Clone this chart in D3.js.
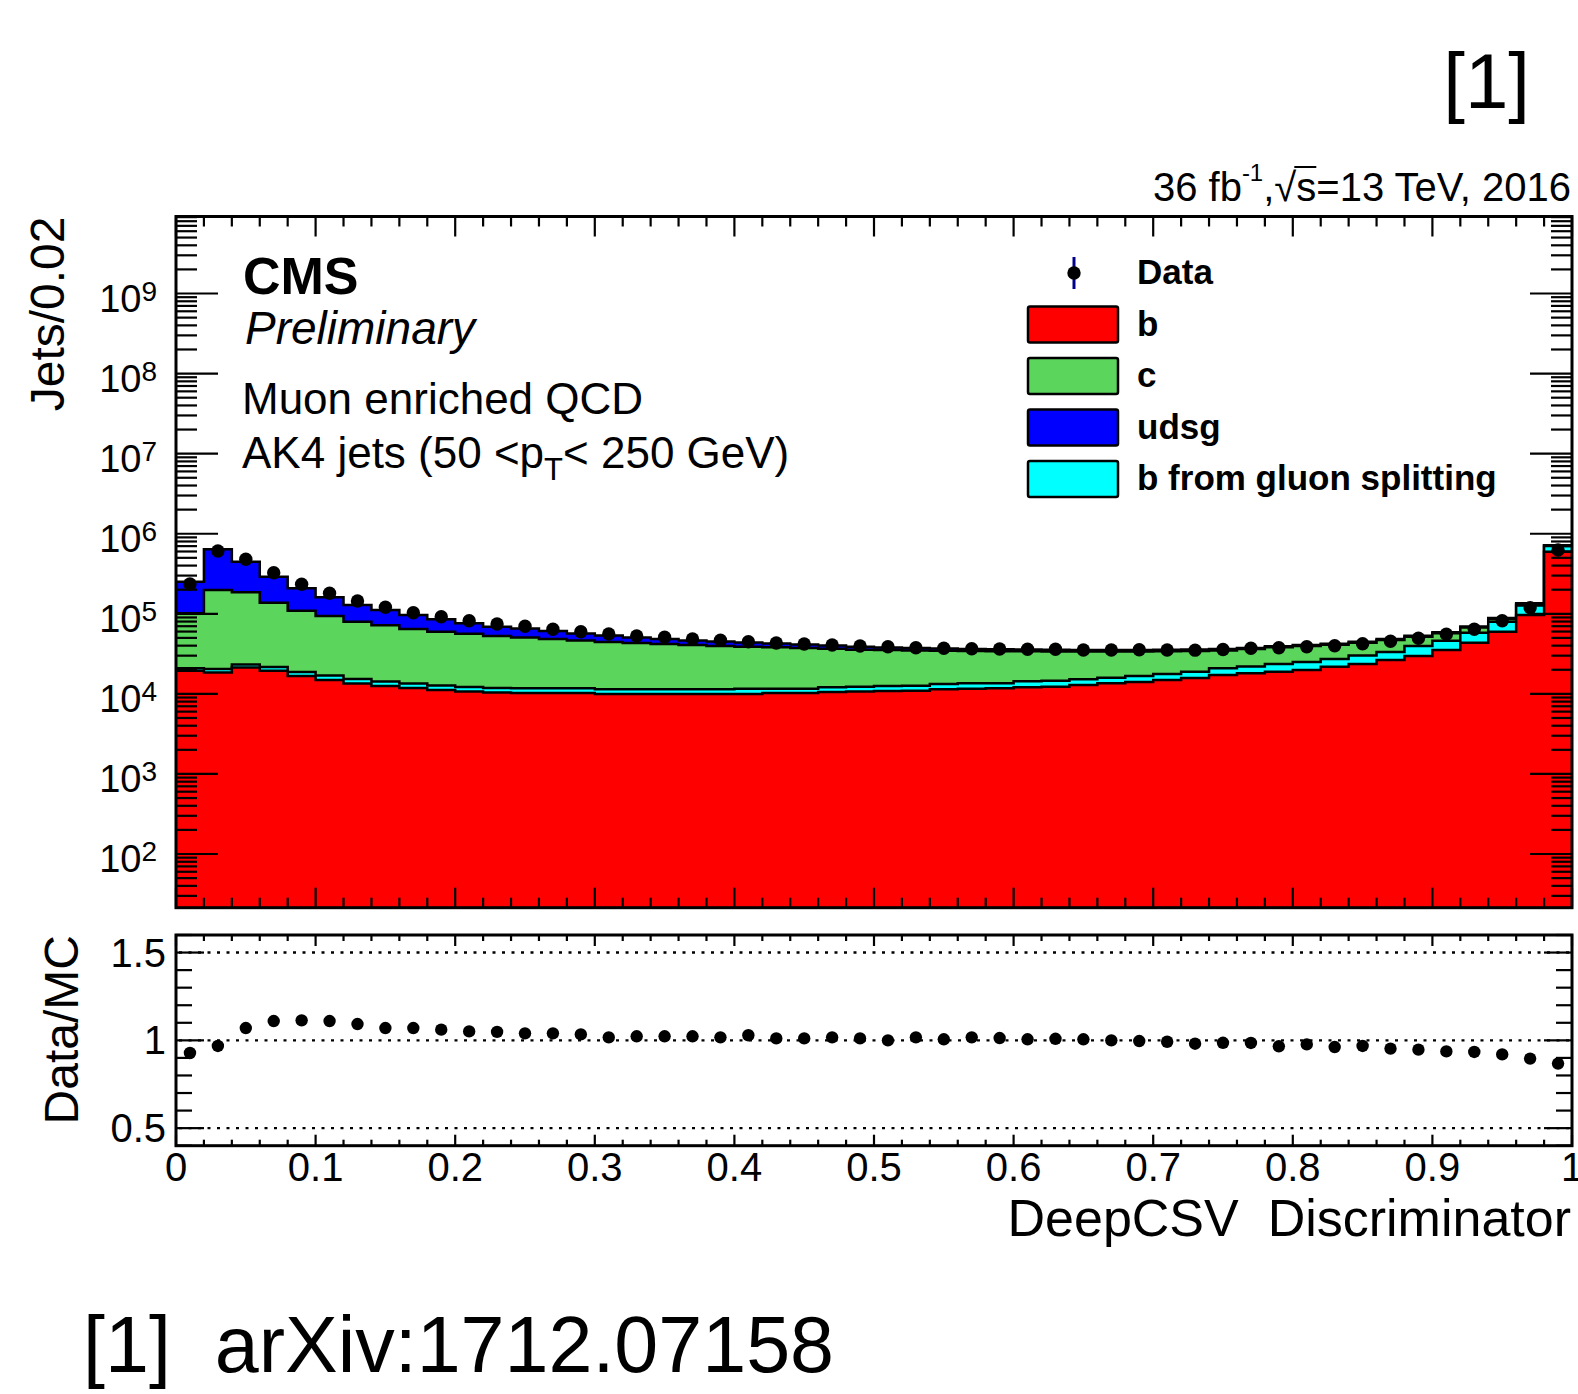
<!DOCTYPE html>
<html><head><meta charset="utf-8">
<script src="https://cdn.jsdelivr.net/npm/d3@7"></script>
<style>
body{margin:0;background:#fff}
svg{display:block}
text{font-family:"Liberation Sans",Arial,Helvetica,sans-serif;fill:#000}
</style>
</head><body>
<svg id="c" width="1578" height="1394"></svg>
<script>
// ---------------- data ----------------
const binLowEdges = [0,0.02,0.04,0.06,0.08,0.10,0.12,0.14,0.16,0.18,0.20,0.22,0.24,0.26,0.28,0.30,0.32,0.34,0.36,0.38,0.40,0.42,0.44,0.46,0.48,0.50,0.52,0.54,0.56,0.58,0.60,0.62,0.64,0.66,0.68,0.70,0.72,0.74,0.76,0.78,0.80,0.82,0.84,0.86,0.88,0.90,0.92,0.94,0.96,0.98];
const binWidth = 0.02;
const bJets = [19500,18500,21300,19500,16700,14900,13500,12500,11800,11200,10700,10400,10250,10250,10250,9960,9960,9960,9960,9960,9960,10250,10250,10550,10700,10860,10950,11400,11600,11730,12080,12290,12900,13550,14070,14900,15780,17200,18060,18920,19860,21840,23600,26480,29710,35300,43550,59750,96600,596400];
const bGluonSplitting = [1400,2000,1900,2100,2050,2050,1850,1750,1650,1550,1480,1440,1480,1480,1480,1440,1440,1440,1440,1440,1640,1350,1350,1530,1570,1680,1680,1880,1950,1820,2270,2310,2300,2370,2650,2800,3140,3660,3900,4680,5140,5410,6530,6850,9890,10820,14500,19910,30300,106200];
const cJets = [80500,177700,162200,115950,90550,76900,64330,57570,51100,47030,44230,40960,38850,36720,34660,33030,31770,30540,29350,28200,27220,26550,25780,24560,23360,22760,22250,21220,20750,20560,19660,19310,18610,17890,17090,16310,15380,13930,14370,14550,14600,13750,13290,13740,12150,11110,9380,6440,5600,8000];
const udsgJets = [150300,440800,261900,153000,98800,66850,49140,39660,32030,25610,19650,16200,14930,12530,10360,9140,7410,6510,5640,5470,4970,4400,3960,3540,3030,2630,2590,2350,2030,1900,1800,1690,1490,1490,1490,1490,1510,1540,1050,1120,1150,1190,1270,1380,1510,1670,1970,2510,2700,6300];
const dataCounts = [235500,608500,479000,326000,233500,180300,144400,120500,103200,92000,82000,74560,69800,64020,59750,55940,52800,50870,48450,46660,44810,43170,41940,40750,39600,38820,37710,37070,36540,36330,36010,36010,35300,35300,35500,35300,35130,35800,37070,37710,38820,39950,42320,45330,49420,55460,64020,82000,119200,626200];
const dataMCRatio = [0.928,0.968,1.07,1.11,1.114,1.11,1.093,1.07,1.07,1.061,1.051,1.048,1.040,1.040,1.034,1.017,1.023,1.023,1.023,1.017,1.029,1.011,1.011,1.017,1.011,1.0,1.017,1.006,1.017,1.013,1.006,1.009,1.006,1.0,0.996,0.992,0.981,0.986,0.985,0.966,0.977,0.962,0.968,0.953,0.947,0.937,0.934,0.920,0.896,0.868];
const xTickValues = [0,0.1,0.2,0.3,0.4,0.5,0.6,0.7,0.8,0.9,1];
const xTickLabels = ["0","0.1","0.2","0.3","0.4","0.5","0.6","0.7","0.8","0.9","1"];
const yTickExponents = [2,3,4,5,6,7,8,9];
const ratioTickValues = [0.5,1,1.5];
const ratioTickLabels = ["0.5","1","1.5"];
const ratioMinorTicks = [0.4,0.6,0.7,0.8,0.9,1.1,1.2,1.3,1.4,1.6];
const seriesKeys = ["b","bsplit","c","udsg"];
const seriesColors = {b:"#ff0000",bsplit:"#00ffff",c:"#5bd55b",udsg:"#0000ff"};
const legendKeys = ["b","c","udsg","bsplit"];
const legendLabels = ["Data","b","c","udsg","b from gluon splitting"];

// ---------------- layout ----------------
const L = 176, R = 1572;
const T1 = 216.5, B1 = 907.7;
const T2 = 935, B2 = 1145.7;

const svg = d3.select("#c");
const x = d3.scaleLinear().domain([0,1]).range([L,R]);
const y = d3.scaleLog().domain([21.35, 9.16e9]).range([B1,T1]);
const yr = d3.scaleLinear().domain([0.4,1.6]).range([B2,T2]);

svg.append("defs").append("clipPath").attr("id","clip1")
  .append("rect").attr("x",L).attr("y",T1).attr("width",R-L).attr("height",B1-T1);

// stacked histogram
const rows = binLowEdges.map((lo,i)=>({lo, b:bJets[i], bsplit:bGluonSplitting[i], c:cJets[i], udsg:udsgJets[i]}));
const stacked = d3.stack().keys(seriesKeys)(rows);
const gStack = svg.append("g").attr("clip-path","url(#clip1)");
const area = d3.area().curve(d3.curveStepAfter).x(d=>x(d.lo)).y0(B1+5).y1(d=>y(d.top));
const line = d3.line().curve(d3.curveStepAfter).x(d=>x(d.lo)).y(d=>y(d.top));
stacked.slice().reverse().forEach(layer=>{
  const pts = layer.map((d,i)=>({lo:binLowEdges[i], top:d[1]}));
  pts.push({lo:binLowEdges[binLowEdges.length-1]+binWidth, top:layer[layer.length-1][1]});
  gStack.append("path").attr("d",area(pts)).attr("fill",seriesColors[layer.key]).attr("stroke","none");
  gStack.append("path").attr("d",line(pts)).attr("fill","none").attr("stroke","#000").attr("stroke-width",2.5);
});

// data points (top)
svg.append("g").attr("clip-path","url(#clip1)").selectAll("circle").data(dataCounts).join("circle")
  .attr("cx",(d,i)=>x(binLowEdges[i]+binWidth/2)).attr("cy",d=>y(d)).attr("r",6.7).attr("fill","#000");

// ---------- ticks ----------
const gAx = svg.append("g").attr("stroke","#000").attr("stroke-width",2.2);
const xMinor = binLowEdges.concat([1]);
xMinor.forEach(v=>{
  const major = xTickValues.some(t=>Math.abs(t-v)<1e-9);
  const len = major?20:10;
  gAx.append("line").attr("x1",x(v)).attr("x2",x(v)).attr("y1",B1).attr("y2",B1-len);
  gAx.append("line").attr("x1",x(v)).attr("x2",x(v)).attr("y1",T1).attr("y2",T1+len);
  const len2 = major?11:6;
  gAx.append("line").attr("x1",x(v)).attr("x2",x(v)).attr("y1",B2).attr("y2",B2-len2);
  gAx.append("line").attr("x1",x(v)).attr("x2",x(v)).attr("y1",T2).attr("y2",T2+len2);
});
const [ymin,ymax] = y.domain();
for(let e=1;e<=9;e++){
  for(let k=1;k<=9;k++){
    const v = k*Math.pow(10,e);
    if(v<ymin||v>ymax) continue;
    const len = k===1?42:21;
    gAx.append("line").attr("x1",L).attr("x2",L+len).attr("y1",y(v)).attr("y2",y(v));
    gAx.append("line").attr("x1",R).attr("x2",R-len).attr("y1",y(v)).attr("y2",y(v));
  }
}
ratioTickValues.forEach(v=>{
  gAx.append("line").attr("x1",L).attr("x2",L+28).attr("y1",yr(v)).attr("y2",yr(v));
  gAx.append("line").attr("x1",R).attr("x2",R-28).attr("y1",yr(v)).attr("y2",yr(v));
});
ratioMinorTicks.forEach(v=>{
  gAx.append("line").attr("x1",L).attr("x2",L+16).attr("y1",yr(v)).attr("y2",yr(v));
  gAx.append("line").attr("x1",R).attr("x2",R-16).attr("y1",yr(v)).attr("y2",yr(v));
});

// frames
svg.append("rect").attr("x",L).attr("y",T1).attr("width",R-L).attr("height",B1-T1)
  .attr("fill","none").attr("stroke","#000").attr("stroke-width",3);
svg.append("rect").attr("x",L).attr("y",T2).attr("width",R-L).attr("height",B2-T2)
  .attr("fill","none").attr("stroke","#000").attr("stroke-width",3);

// tick labels
yTickExponents.forEach(e=>{
  const t = svg.append("text").attr("x",157).attr("y",y(Math.pow(10,e))+18.4)
    .attr("text-anchor","end").style("font-size","38px");
  t.append("tspan").text("10");
  t.append("tspan").attr("dy",-11).style("font-size","28px").text(e);
});
ratioTickValues.forEach((v,i)=>{
  svg.append("text").attr("x",166).attr("y",yr(v)+14).attr("text-anchor","end")
    .style("font-size","40px").text(ratioTickLabels[i]);
});
xTickValues.forEach((v,i)=>{
  svg.append("text").attr("x",x(v)).attr("y",1181).attr("text-anchor","middle")
    .style("font-size","40px").text(xTickLabels[i]);
});

// ratio panel
[0.5,1,1.5].forEach(v=>{
  svg.append("line").attr("x1",L+3).attr("x2",R-3).attr("y1",yr(v)).attr("y2",yr(v))
    .attr("stroke","#000").attr("stroke-width",2.4).attr("stroke-dasharray","3,6.5");
});
svg.append("g").selectAll("circle").data(dataMCRatio).join("circle")
  .attr("cx",(d,i)=>x(binLowEdges[i]+binWidth/2)).attr("cy",d=>yr(d)).attr("r",6.2).attr("fill","#000");

// axis titles
svg.append("text").attr("transform",`translate(64,${T1}) rotate(-90)`).attr("text-anchor","end")
  .style("font-size","48px").text("Jets/0.02");
svg.append("text").attr("transform",`translate(78,${T2}) rotate(-90)`).attr("text-anchor","end")
  .style("font-size","48px").text("Data/MC");
svg.append("text").attr("x",R-1).attr("y",1236).attr("text-anchor","end")
  .style("font-size","52px").style("white-space","pre").text("DeepCSV  Discriminator");

// lumi label
const lumi = svg.append("text").attr("x",R-1).attr("y",201).attr("text-anchor","end").style("font-size","40px");
lumi.append("tspan").text("36 fb");
lumi.append("tspan").attr("dy",-20).style("font-size","24px").text("-1");
lumi.append("tspan").attr("dy",20).text(",\u221As=13 TeV, 2016");
{
  const node = lumi.node();
  const full = node.textContent;
  const idx = full.indexOf("\u221As") + 1;
  const ex = node.getExtentOfChar(idx);
  const exR = node.getExtentOfChar(idx-1);
  svg.append("line").attr("x1",exR.x+exR.width-2).attr("x2",ex.x+ex.width).attr("y1",201-34).attr("y2",201-34)
    .attr("stroke","#000").attr("stroke-width",2);
}

// CMS labels
svg.append("text").attr("x",243).attr("y",294).style("font-size","52px").style("font-weight","bold").text("CMS");
svg.append("text").attr("x",245).attr("y",344).style("font-size","46px").style("font-style","italic").text("Preliminary");
svg.append("text").attr("x",242).attr("y",414).style("font-size","44px").text("Muon enriched QCD");
const ak = svg.append("text").attr("x",242).attr("y",468).style("font-size","44px");
ak.append("tspan").text("AK4 jets (50 <p");
ak.append("tspan").attr("dy",12).style("font-size","31px").text("T");
ak.append("tspan").attr("dy",-12).text("< 250 GeV)");

// legend
const legRows = [273,324.5,376,427.5,479];
const gLeg = svg.append("g");
gLeg.append("line").attr("x1",1074).attr("x2",1074).attr("y1",legRows[0]-16).attr("y2",legRows[0]+16)
  .attr("stroke","#00008b").attr("stroke-width",3);
gLeg.append("circle").attr("cx",1074).attr("cy",legRows[0]).attr("r",6.7).attr("fill","#000");
legendKeys.forEach((k,i)=>{
  gLeg.append("rect").attr("x",1028).attr("y",legRows[i+1]-18).attr("width",90).attr("height",36)
    .attr("rx",2).attr("fill",seriesColors[k]).attr("stroke","#000").attr("stroke-width",2.5);
});
legendLabels.forEach((lab,i)=>{
  gLeg.append("text").attr("x",1137).attr("y",legRows[i]+11).style("font-size","35px")
    .style("font-weight","bold").text(lab);
});

// citation texts
svg.append("text").attr("x",1530).attr("y",108).attr("text-anchor","end").style("font-size","78px").text("[1]");
svg.append("text").attr("x",83).attr("y",1372).style("font-size","79px").style("white-space","pre").text("[1]  arXiv:1712.07158");
</script>
</body></html>
